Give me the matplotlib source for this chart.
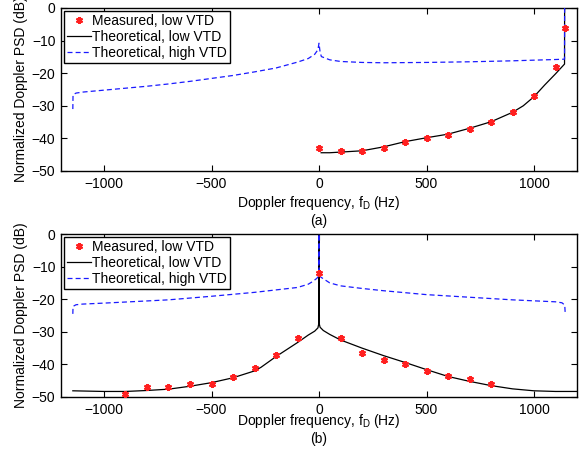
import matplotlib
matplotlib.use("Agg")
import matplotlib.pyplot as plt
from matplotlib.lines import Line2D

plt.rcParams['font.family'] = ['Liberation Sans', 'DejaVu Sans']
plt.rcParams['mathtext.fontset'] = 'custom'
plt.rcParams['mathtext.rm'] = 'Liberation Sans'
plt.rcParams['mathtext.it'] = 'Liberation Sans:italic'
plt.rcParams['font.size'] = 10

# ---------------- Data: panel (a) ----------------
meas_a_f = [0, 100, 200, 300, 400, 500, 600, 700, 800, 900, 1000, 1100, 1143]
meas_a_db = [-43, -44, -44, -43, -41, -40, -39, -37, -35, -32, -27, -18, -6]

theo_low_a_f = [10, 50, 100, 200, 300, 400, 500, 600, 700, 800, 900, 950,
                1000, 1050, 1100, 1142, 1142.5]
theo_low_a_db = [-44.4, -44.4, -44.2, -43.8, -42.6, -41.0, -39.8, -38.7, -36.9,
                 -34.9, -32.0, -30.0, -27.2, -23.6, -20.2, -17.2, 5]

theo_high_a_f = [-1145, -1144, -1130, -1100, -1000, -900, -800, -700, -600, -500,
                 -400, -300, -200, -100, -50, -20, -5, 0, 5, 11, 50, 100, 200,
                 300, 500, 700, 900, 1000, 1100, 1142, 1142.5]
theo_high_a_db = [-31.0, -26.6, -26.1, -25.8, -25.2, -24.6, -24.0, -23.3, -22.5,
                  -21.6, -20.7, -19.6, -18.4, -16.6, -15.5, -14.2, -12.8, -10.8,
                  -13.5, -14.9, -15.9, -16.4, -16.7, -16.8, -16.7, -16.5, -16.2,
                  -16.0, -15.8, -15.7, 5]

# ---------------- Data: panel (b) ----------------
meas_b_f = [-900, -800, -700, -600, -500, -400, -300, -200, -100, 0,
            100, 200, 300, 400, 500, 600, 700, 800]
meas_b_db = [-49, -47, -47, -46, -46, -44, -41, -37, -32, -12,
             -32, -36.5, -38.5, -40, -42, -43.6, -44.5, -46]

theo_low_b_f = [-1145, -1000, -900, -800, -700, -600, -500, -400, -300, -270,
                -200, -100, -50, -20, -5, -1, 0, 1, 5, 20, 50, 100, 200, 300,
                400, 500, 600, 700, 800, 900, 1000, 1100, 1200]
theo_low_b_db = [-48.1, -48.3, -48.3, -48.0, -47.6, -46.7, -45.6, -44.1, -42.0,
                 -40.9, -37.6, -33.3, -31.0, -29.8, -28.8, -27.5, 5, -27.5,
                 -28.6, -29.6, -30.8, -32.5, -35.0, -37.3, -39.4, -41.6, -43.7,
                 -45.2, -46.5, -47.5, -48.1, -48.3, -48.3]

theo_high_b_f = [-1145, -1144, -1130, -1100, -1000, -700, -500, -300, -100, -50,
                 -30, -10, -1, 0, 1, 10, 50, 100, 200, 300, 500, 700, 900,
                 1100, 1130, 1143, 1145]
theo_high_b_db = [-24.5, -22.2, -21.7, -21.5, -21.2, -20.2, -19.1, -17.9, -16.4,
                  -15.4, -14.6, -13.6, -12.8, 5, -12.8, -13.3, -15.0, -15.9,
                  -16.7, -17.4, -18.6, -19.4, -20.2, -20.8, -21.1, -21.8, -24.2]

labels = ["Measured, low VTD", "Theoretical, low VTD", "Theoretical, high VTD"]
xticks = [-1000, -500, 0, 500, 1000]
yticks = [-50, -40, -30, -20, -10, 0]

fig = plt.figure(figsize=(5.84, 4.53), dpi=100)
W, H = 584, 453
ax_a = fig.add_axes([61 / W, 1 - 171 / H, (577 - 61) / W, (171 - 8) / H])
ax_b = fig.add_axes([61 / W, 1 - 397 / H, (577 - 61) / W, (397 - 234) / H])

def style(ax):
    ax.set_xlim(-1200, 1200)
    ax.set_ylim(-50, 0)
    ax.set_xticks(xticks)
    ax.set_yticks(yticks)
    ax.tick_params(direction='in', top=True, right=True, length=4, width=0.8,
                   labelsize=10, pad=4)
    for s in ax.spines.values():
        s.set_linewidth(1.0)
    ax.set_ylabel("Normalized Doppler PSD (dB)", fontsize=10, labelpad=3)

def panel(ax, mf, md, lf, ld, hf, hd):
    ax.plot(lf, ld, color='black', lw=0.9, zorder=2)
    ax.plot(hf, hd, color='#1a1aff', lw=0.9, ls=(0, (4, 2.5)), zorder=3)
    ax.plot(mf, md, ls='none', marker=(6, 2, 0), ms=5, mew=1.5,
            color='#ff2020', zorder=4)
    handles = [
        Line2D([], [], ls='none', marker=(6, 2, 0), ms=5, mew=1.5, color='#ff2020'),
        Line2D([], [], color='black', lw=0.9),
        Line2D([], [], color='#1a1aff', lw=0.9, ls=(0, (4, 2.5))),
    ]
    leg = ax.legend(handles, labels, loc='upper left', fontsize=10,
                    frameon=True, fancybox=False, framealpha=1,
                    edgecolor='black', borderpad=0.25, labelspacing=0.12,
                    handlelength=1.7, handletextpad=0.1, borderaxespad=0.2)
    leg.get_frame().set_linewidth(1.0)

style(ax_a)
panel(ax_a, meas_a_f, meas_a_db, theo_low_a_f, theo_low_a_db,
      theo_high_a_f, theo_high_a_db)
ax_a.set_xlabel(r"Doppler frequency, f$_\mathrm{D}$ (Hz)", fontsize=10, labelpad=2.5)

style(ax_b)
panel(ax_b, meas_b_f, meas_b_db, theo_low_b_f, theo_low_b_db,
      theo_high_b_f, theo_high_b_db)
ax_b.set_xlabel(r"Doppler frequency, f$_\mathrm{D}$ (Hz)", fontsize=10, labelpad=-3)

fig.text(319 / W, 1 - 221 / H, "(a)", ha='center', va='center', fontsize=10)
fig.text(319 / W, 1 - 439 / H, "(b)", ha='center', va='center', fontsize=10)

fig.savefig("out.png", dpi=100)
